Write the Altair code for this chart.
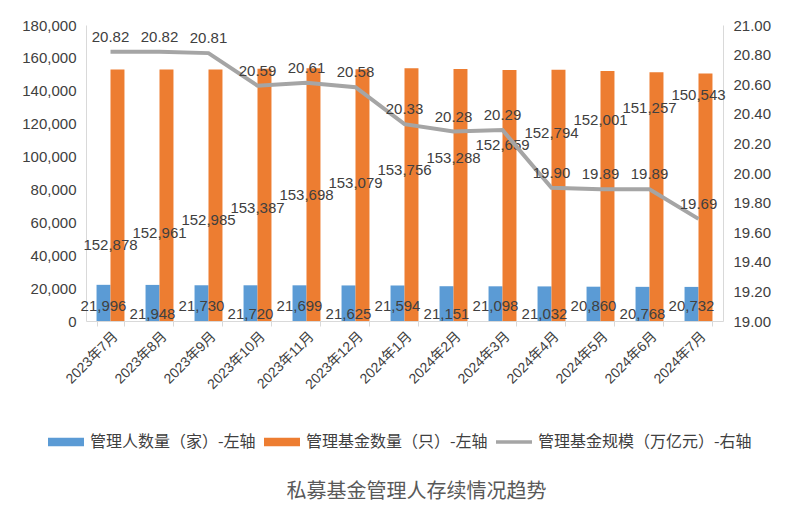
import altair as alt
import pandas as pd

months = ["2023年7月", "2023年8月", "2023年9月", "2023年10月", "2023年11月", "2023年12月",
          "2024年1月", "2024年2月", "2024年3月", "2024年4月", "2024年5月", "2024年6月", "2024年7月"]
managers = [21996, 21948, 21730, 21720, 21699, 21625, 21594, 21151, 21098, 21032, 20860, 20768, 20732]
funds = [152878, 152961, 152985, 153387, 153698, 153079, 153756, 153288, 152659, 152794, 152001, 151257, 150543]
scale_vals = [20.82, 20.82, 20.81, 20.59, 20.61, 20.58, 20.33, 20.28, 20.29, 19.90, 19.89, 19.89, 19.69]
names = ["管理人数量（家）-左轴", "管理基金数量（只）-左轴", "管理基金规模（万亿元）-右轴"]
colors = ["#5B9BD5", "#ED7D31", "#A5A5A5"]
legend_paths = ["M-1,-0.24H1V0.24H-1Z", "M-1,-0.24H1V0.24H-1Z", "M-1,-0.1H1V0.1H-1Z"]
left_ticks = [0, 20000, 40000, 60000, 80000, 100000, 120000, 140000, 160000, 180000]
right_ticks = [19.0, 19.2, 19.4, 19.6, 19.8, 20.0, 20.2, 20.4, 20.6, 20.8, 21.0]

n = len(months)
bars_df = pd.DataFrame({
    "month": months * 2,
    "series": [names[0]] * n + [names[1]] * n,
    "value": managers + funds,
    "idx": list(range(n)) * 2,
})
line_df = pd.DataFrame({"month": months, "series": [names[2]] * n, "value": scale_vals, "idx": list(range(n))})

NUM_FONT = "Liberation Sans, Noto Sans CJK SC"
CJK_FONT = "Noto Sans CJK SC"
TXT = "#404040"
AX = "#D9D9D9"

xenc = alt.X("month:N", sort=months,
             scale=alt.Scale(paddingInner=0.43, paddingOuter=0.215),
             axis=alt.Axis(title=None, labelAngle=315, labelFontSize=14, labelColor=TXT,
                           labelFont=NUM_FONT, domainColor=AX, tickColor=AX, tickBand="extent",
                           tickSize=5, labelPadding=3))
xoff = alt.XOffset("series:N", scale=alt.Scale(domain=names[:2]))

left_scale = alt.Scale(domain=[0, 180000])
left_axis = alt.Axis(title=None, values=left_ticks, labelExpr="format(datum.value, ',')",
                     labelFontSize=15, labelColor=TXT,
                     labelFont=NUM_FONT, domainColor=AX, ticks=False, grid=False, labelPadding=10,
                     minExtent=73, maxExtent=73)
right_scale = alt.Scale(domain=[19, 21])
right_axis = alt.Axis(title=None, orient="right", values=right_ticks,
                      labelExpr="format(datum.value, '.2f')", labelFontSize=15,
                      labelColor=TXT, labelFont=NUM_FONT, domainColor=AX, ticks=False, grid=False,
                      labelPadding=10)

leg = alt.Legend(title=None, orient="none", legendX=-38, legendY=399, direction="horizontal",
                 symbolSize=1296, labelFontSize=16, labelFont=CJK_FONT, labelColor=TXT,
                 columnPadding=8, labelOffset=6, symbolStrokeWidth=0, symbolOpacity=1, labelLimit=400)
color = alt.Color("series:N", scale=alt.Scale(domain=names, range=colors), legend=leg)

bars = alt.Chart(bars_df).mark_bar().encode(
    x=xenc, xOffset=xoff,
    y=alt.Y("value:Q", scale=left_scale, axis=left_axis),
    color=color,
)

blue_text = alt.Chart(bars_df).transform_filter(
    alt.datum.series == names[0]
).transform_calculate(
    ly="datum.idx % 2 == 0 ? 9000 : 4500"
).mark_text(fontSize=15, font=NUM_FONT, color=TXT, baseline="middle").encode(
    x=xenc, xOffset=xoff,
    y=alt.Y("ly:Q", scale=left_scale, axis=left_axis),
    text=alt.Text("value:Q", format=","),
)

orange_text = alt.Chart(bars_df).transform_filter(
    alt.datum.series == names[1]
).transform_calculate(
    ly="46000 + datum.idx * 7600"
).mark_text(fontSize=15, font=NUM_FONT, color=TXT, baseline="middle").encode(
    x=xenc,
    y=alt.Y("ly:Q", scale=left_scale, axis=left_axis),
    text=alt.Text("value:Q", format=","),
)

left = alt.layer(bars, blue_text, orange_text)

line = alt.Chart(line_df).mark_line(strokeWidth=4).encode(
    x=xenc,
    y=alt.Y("value:Q", scale=right_scale, axis=right_axis),
    color=color,
)
line_text = alt.Chart(line_df).mark_text(fontSize=15, font=NUM_FONT, color=TXT, dy=-15).encode(
    x=xenc,
    y=alt.Y("value:Q", scale=right_scale, axis=right_axis),
    text=alt.Text("value:Q", format=".2f"),
)
right = alt.layer(line, line_text)

legend_layer = alt.Chart(line_df).transform_filter("false").mark_point(filled=True, opacity=1).encode(
    color=color,
    shape=alt.Shape("series:N", scale=alt.Scale(domain=names, range=legend_paths), legend=leg),
)

chart = alt.layer(left, right, legend_layer).resolve_scale(y="independent").properties(
    width=637, height=296,
    padding={"left": 5, "top": 10, "right": 5, "bottom": 5},
    title=alt.TitleParams("私募基金管理人存续情况趋势", orient="bottom", fontSize=20, font=CJK_FONT,
                          color="#595959", fontWeight="normal", offset=32, dx=12),
).configure_view(stroke=None)

chart.save("out.html", embed_options={"renderer": "svg", "actions": False})
